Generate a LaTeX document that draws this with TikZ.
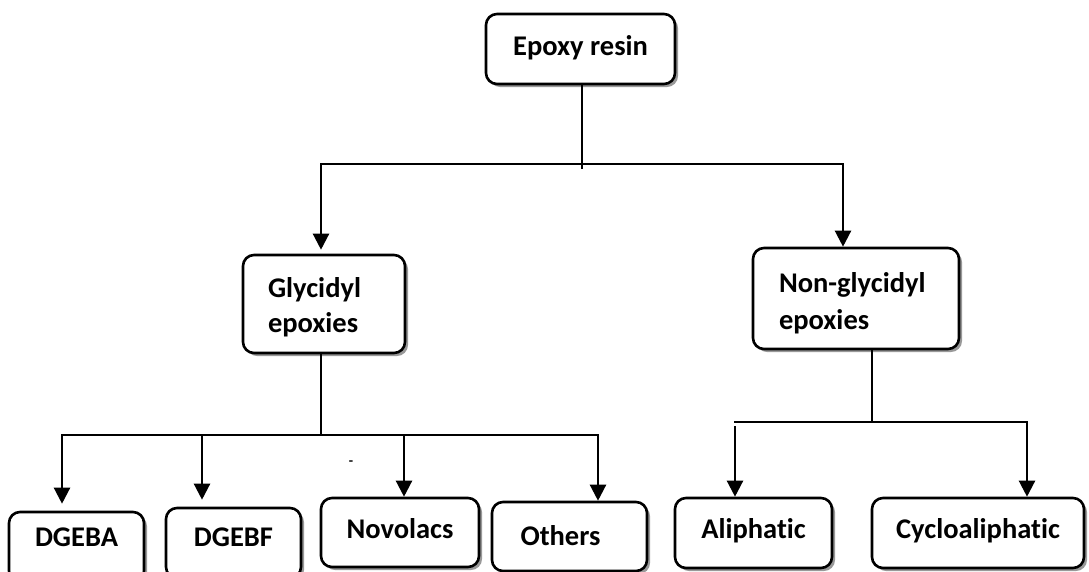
\documentclass[tikz,border=0pt]{standalone}
\usepackage{fontspec}
\setmainfont{Carlito}[Ligatures=NoCommon]
\usetikzlibrary{shadows,arrows.meta}
\begin{document}
\begin{tikzpicture}[x=1pt,y=-1pt,
  box/.style={draw, line width=2.6pt, rounded corners=11pt, fill=white,
    general shadow={fill=black!40, shadow xshift=3pt, shadow yshift=-3pt},
    font=\fontsize{28.5}{35}\selectfont\bfseries, inner sep=0pt},
  one/.style={box, text height=19pt, text depth=0pt},
  conn/.style={line width=2.3pt, line cap=rect},
  arr/.style={conn, -{Triangle[width=16pt,length=16pt]}}]
\useasboundingbox (0,0) rectangle (1089,571);
\fill[white] (0,0) rectangle (1089,571);
\clip (0,0) rectangle (1089,571);

% boxes
\node[one, minimum width=189pt, minimum height=70pt] (epoxy) at (580.5,49) {\raisebox{3pt}{Epoxy resin}};
\node[box, align=left, text width=112pt, inner xsep=25pt, minimum height=98pt,
      text height=20pt, text depth=34pt] (gly) at (324,304) {Glycidyl\\epoxies};
\node[box, align=left, text width=154pt, inner xsep=26pt, minimum height=101pt,
      text height=20pt, text depth=33pt, font=\fontsize{28.5}{37}\selectfont\bfseries]
      (nongly) at (856,298.5) {Non-glycidyl\\epoxies};
\node[one, minimum width=135pt, minimum height=70pt] (dgeba) at (76.5,547) {\raisebox{10.5pt}{DGEBA}};
\node[one, minimum width=135pt, minimum height=70pt] (dgebf) at (233.5,543) {\raisebox{6.5pt}{DGEBF}};
\node[one, minimum width=158pt, minimum height=69pt] (novo) at (400,532.5) {\raisebox{4pt}{Novolacs}};
\node[one, minimum width=155pt, minimum height=69pt] (others) at (569.5,536.5) {\kern-18pt\raisebox{1pt}{Others}};
\node[one, minimum width=157pt, minimum height=70pt] (ali) at (753.5,533) {\raisebox{4.5pt}{Aliphatic}};
\node[one, minimum width=212pt, minimum height=70pt] (cyc) at (978,533) {\raisebox{4.5pt}{Cycloaliphatic}};
\node[font=\fontsize{14}{14}\selectfont\bfseries, inner sep=0pt] (dash) at (351,463) {-};

% top level
\coordinate (t) at (582,168);
\coordinate (tl) at (321,164);
\coordinate (tr) at (843,164);
\draw[conn] (epoxy.south -| t) -- (t);
\draw[conn] (tl) -- (tr);
\draw[arr, shorten >=4pt] (tl) -- (tl |- gly.north);
\draw[arr] (tr) -- (tr |- nongly.north);

% glycidyl branch
\coordinate (g) at (321,435);
\coordinate (gl) at (62,435);
\coordinate (g2) at (202,435);
\coordinate (g3) at (404,435);
\coordinate (gr) at (598,435);
\draw[conn] (gly.south -| g) -- (g);
\draw[conn] (gl) -- (gr);
\draw[arr, shorten >=7pt] (gl) -- (gl |- dgeba.north);
\draw[arr, shorten >=7pt] (g2) -- (g2 |- dgebf.north);
\draw[arr] (g3) -- (g3 |- novo.north);
\draw[arr] (gr) -- (gr |- others.north);

% non-glycidyl branch
\coordinate (n) at (872,422);
\coordinate (nl) at (735,422);
\coordinate (nl2) at (735,427);
\coordinate (nr) at (1027,422);
\draw[conn] (nongly.south -| n) -- (n);
\draw[conn] (nl) -- (nr);
\draw[arr] (nl2) -- (nl2 |- ali.north);
\draw[arr] (nr) -- (nr |- cyc.north);
\end{tikzpicture}
\end{document}
